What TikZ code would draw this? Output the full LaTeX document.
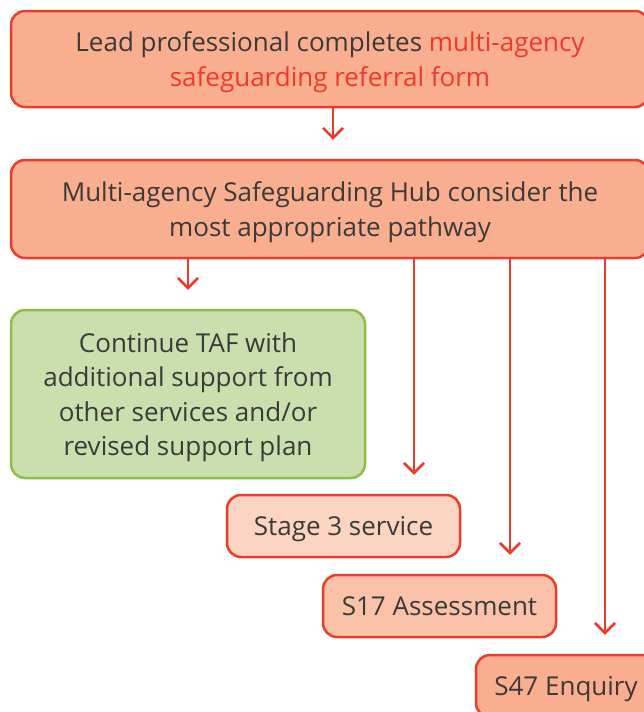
\documentclass[tikz,border=0pt]{standalone}
\usepackage{fontspec}
\setmainfont{Open Sans}
\usepackage{xcolor}
\usetikzlibrary{arrows.meta}
\definecolor{hubred}{HTML}{EE3A2A}
\definecolor{hubfill}{HTML}{F9AE8F}
\definecolor{stagefill}{HTML}{FBD5C1}
\definecolor{sfillmid}{HTML}{FAC2A8}
\definecolor{tafgreen}{HTML}{8BBF45}
\definecolor{taffill}{HTML}{CBDFAE}
\definecolor{txtgrey}{HTML}{3A3A3A}
\tikzset{
  redbox/.style={draw=hubred, line width=2.5pt, rounded corners=14pt, align=center,
    text=txtgrey, font=\fontsize{26}{34.5}\selectfont, inner sep=0pt, text depth=0pt},
  greenbox/.style={redbox, draw=tafgreen, fill=taffill},
  arr/.style={draw=hubred, line width=2.5pt, shorten >=19pt,
    -{Straight Barb[length=10pt, width=20pt, line width=2.5pt]}}
}
\begin{document}
\begin{tikzpicture}[x=1pt, y=-1pt]
\useasboundingbox (0,0) rectangle (644,712);
\clip (0,0) rectangle (644,712);
  \node[redbox, fill=hubfill, minimum width=638pt, minimum height=96pt] (lead) at (330, 59) {Lead professional completes \textcolor{hubred}{multi-agency}\\\textcolor{hubred}{safeguarding referral form}}; %referral
  \node[redbox, fill=hubfill, minimum width=638pt, minimum height=98pt] (hub) at (330, 209) {Multi-agency Safeguarding Hub consider the\\most appropriate pathway}; %hub
  \node[greenbox, minimum width=354pt, minimum height=168pt] (taf) at (188, 394) {Continue TAF with\\additional support from\\other services and/or\\revised support plan}; %TAF
  \node[redbox, fill=stagefill, minimum width=233pt, minimum height=62pt] (stage) at (343.5, 526) {Stage 3 service}; %stage 3
  \node[redbox, fill=sfillmid, minimum width=233pt, minimum height=62pt] (assess) at (439.5, 606) {S17 Assessment}; %S17
  \node[redbox, fill=hubfill, minimum width=180pt, minimum height=62pt] (enquiry) at (566, 686) {S47 Enquiry}; %S47
  \draw[arr] (lead.south -| 333,0) -- (hub.north -| 333,0);
  \draw[arr] (hub.south -| taf.north) -- (taf.north);
  \draw[arr] (hub.south -| 414,0) -- (stage.north -| 414,0);
  \draw[arr] (hub.south -| 510,0) -- (assess.north -| 510,0);
  \draw[arr] (hub.south -| 605,0) -- (enquiry.north -| 605,0);
\end{tikzpicture}
\end{document}
